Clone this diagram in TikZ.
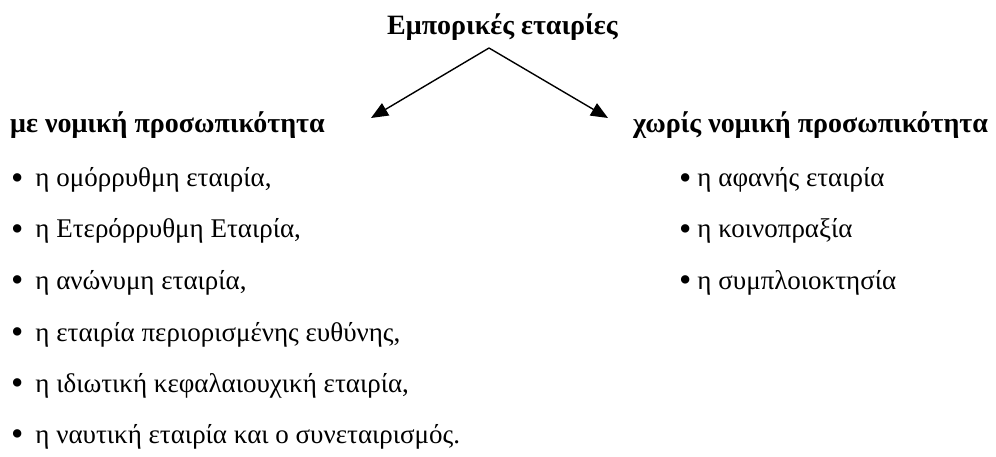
\documentclass[tikz,border=0pt]{standalone}
\usepackage{fontspec}
\usepackage{graphicx}
\setmainfont{Liberation Serif}
\usetikzlibrary{arrows.meta}
\newcommand{\bigbul}{\raisebox{-2.2pt}{\scalebox{1.3}{•}}}
\begin{document}
\begin{tikzpicture}[x=1pt,y=-1pt,
  txt/.style={inner sep=0pt,anchor=base west,font=\fontsize{27}{32}\selectfont},
  head/.style={txt,font=\fontsize{28}{33}\selectfont\bfseries},
  arr/.style={line width=1.4pt,-{Triangle[length=17pt,width=14pt]}}]
\useasboundingbox (0,0) rectangle (996,457);
\node[head] (title) at (387,35) {Εμπορικές εταιρίες};
\coordinate (apex) at (489,48);
\coordinate (ltip) at (371,118);
\coordinate (rtip) at (608,118);
\draw[arr] (apex) -- (ltip);
\draw[arr] (apex) -- (rtip);
\node[head] (lh) at (10,133) {με νομική προσωπικότητα};
\node[head] (rh) at (633,133) {χωρίς νομική προσωπικότητα};
\node[txt] (l1) at (11,187) {\bigbul\hspace{12pt}η ομόρρυθμη εταιρία,};
\node[txt] (l2) at (11,238) {\bigbul\hspace{12pt}η Ετερόρρυθμη Εταιρία,};
\node[txt] (l3) at (11,289) {\bigbul\hspace{12pt}η ανώνυμη εταιρία,};
\node[txt] (l4) at (11,341) {\bigbul\hspace{12pt}η εταιρία περιορισμένης ευθύνης,};
\node[txt] (l5) at (11,392) {\bigbul\hspace{12pt}η ιδιωτική κεφαλαιουχική εταιρία,};
\node[txt] (l6) at (11,443) {\bigbul\hspace{12pt}η ναυτική εταιρία και ο συνεταιρισμός.};
\node[txt] (r1) at (679,187) {\bigbul\hspace{6pt}η αφανής εταιρία};
\node[txt] (r2) at (679,238) {\bigbul\hspace{6pt}η κοινοπραξία};
\node[txt] (r3) at (679,289) {\bigbul\hspace{6pt}η συμπλοιοκτησία};
\end{tikzpicture}
\end{document}
